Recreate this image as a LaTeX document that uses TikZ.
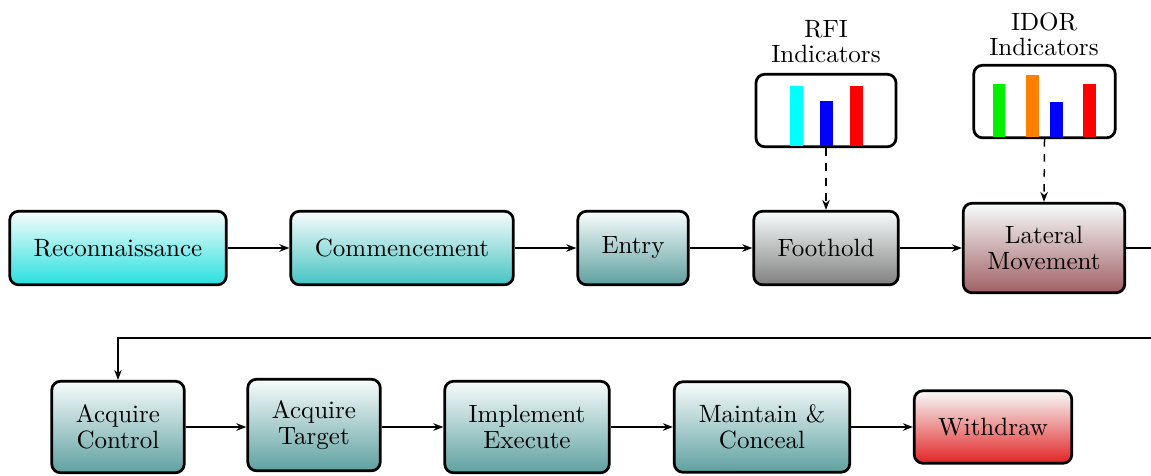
\documentclass[tikz,border=0pt]{standalone}
\usetikzlibrary{arrows.meta,calc}
\definecolor{cRecon}{RGB}{40,224,224}
\definecolor{cComm}{RGB}{70,195,195}
\definecolor{cTeal}{RGB}{95,160,160}
\definecolor{cGray}{RGB}{128,128,128}
\definecolor{cLat}{RGB}{160,95,100}
\definecolor{cRed}{RGB}{225,35,35}
\definecolor{cTop}{RGB}{248,252,252}
\definecolor{cOrange}{RGB}{255,128,0}
\definecolor{cGreen}{RGB}{0,240,0}
\definecolor{cCyan}{RGB}{0,255,255}
\definecolor{cBlue}{RGB}{0,0,255}
\definecolor{cBar}{RGB}{255,0,0}
\tikzset{
  stage/.style={draw=black, line width=1.1pt, rounded corners=3.5pt, align=center,
    inner sep=2pt, font={\fontsize{10}{10.5}\selectfont}, top color=cTop},
  indbox/.style={draw=black, line width=1.1pt, rounded corners=3.5pt, fill=white,
    minimum width=56pt, minimum height=29pt, inner sep=0pt},
  indlabel/.style={align=center, font={\fontsize{10}{10}\selectfont}},
  flow/.style={-{Stealth[length=4pt,width=3pt]}, line width=0.6pt},
  dflow/.style={-{Stealth[length=4pt,width=3pt]}, line width=0.6pt, dashed},
}
\begin{document}
\begin{tikzpicture}[x=0.4pt,y=-0.4pt]
\useasboundingbox (0,0) rectangle (1151,475);
% row 1
\node[stage, bottom color=cRecon, minimum width=86.6pt, minimum height=29.4pt] (rec) at (118,248) {Reconnaissance};
\node[stage, bottom color=cComm, minimum width=89pt, minimum height=29.4pt] (com) at (402,248) {Commencement};
\node[stage, bottom color=cTeal, minimum width=44.2pt, minimum height=29.4pt] (ent) at (633,248) {Entry};
\node[stage, bottom color=cGray, minimum width=57.8pt, minimum height=29.4pt] (foo) at (826,248) {Foothold};
\node[stage, bottom color=cLat, minimum width=64.6pt, minimum height=35.8pt] (lat) at (1044,248) {Lateral\\Movement};
% row 2
\node[stage, bottom color=cTeal, minimum width=53pt, minimum height=36.6pt] (acq) at (118,427) {Acquire\\Control};
\node[stage, bottom color=cTeal, minimum width=53pt, minimum height=36.6pt] (tar) at (314,425) {Acquire\\Target};
\node[stage, bottom color=cTeal, minimum width=65.8pt, minimum height=36.6pt] (imp) at (527,427) {Implement\\Execute};
\node[stage, bottom color=cTeal, minimum width=70.2pt, minimum height=36.2pt] (mai) at (762,427) {Maintain \&\\Conceal};
\node[stage, bottom color=cRed, minimum width=63pt, minimum height=29pt] (wit) at (993,427) {Withdraw};
% indicators
\node[indbox] (rfi) at (826,110.5) {};
\fill[cCyan] (790,86) rectangle (803,146);
\fill[cBlue] (820,101) rectangle (833,146);
\fill[cBar] (850,86) rectangle (863,146);
\node[indlabel] (rfil) at (826,42) {RFI\\Indicators};
\node[indbox, minimum width=56.6pt] (idor) at (1044.5,101.5) {};
\fill[cGreen] (993,84) rectangle (1005,137);
\fill[cOrange] (1026,75) rectangle (1039,137);
\fill[cBlue] (1050,102) rectangle (1063,137);
\fill[cBar] (1083,84) rectangle (1096,137);
\node[indlabel] (idorl) at (1044,34) {IDOR\\Indicators};
% connectors
\draw[flow] (rec) -- (com);
\draw[flow] (com) -- (ent);
\draw[flow] (ent) -- (foo);
\draw[flow] (foo) -- (lat);
\coordinate (w1) at (1170,248);
\coordinate (w2) at (1170,338);
\draw[flow] (lat.east) -- (w1) -- (w2) -| (acq.north);
\coordinate (r2) at (0,427);
\draw[flow] (acq.east |- r2) -- (tar.west |- r2);
\draw[flow] (tar.east |- r2) -- (imp.west |- r2);
\draw[flow] (imp.east |- r2) -- (mai.west |- r2);
\draw[flow] (mai) -- (wit);
\draw[dflow] (rfi.south) -- (foo.north);
\draw[dflow] (idor.south) -- (lat.north);
\end{tikzpicture}
\end{document}
